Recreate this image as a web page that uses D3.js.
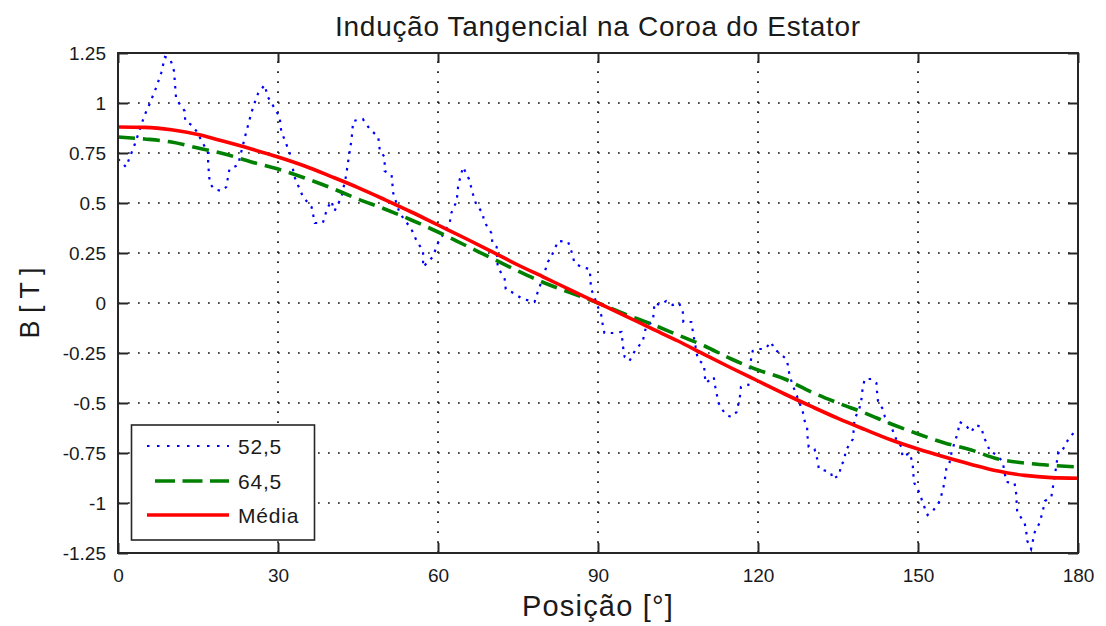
<!DOCTYPE html>
<html>
<head>
<meta charset="utf-8">
<script src="https://cdn.jsdelivr.net/npm/d3@7/dist/d3.min.js"></script>
<style>
  html, body { margin: 0; padding: 0; background: #fff; }
  svg { display: block; }
  text { font-family: "Liberation Sans", Arial, sans-serif; fill: #1a1a1a; }
</style>
</head>
<body>
<svg id="chart" width="1106" height="626"></svg>
<script>
// Tangential flux density in the stator yoke vs. angular position

const xTicks = [0, 30, 60, 90, 120, 150, 180];
const yTicks = [1.25, 1, 0.75, 0.5, 0.25, 0, -0.25, -0.5, -0.75, -1, -1.25];
const seriesNames = ["52,5", "64,5", "Média"];

// Series "52,5": positions (degrees) and flux density (T)
const pos525 = [0, 1.5, 3.1, 5, 6, 7.2, 8.1, 8.8, 9.8, 10.5, 10.9, 12.5, 12.6, 13.8, 14.7, 16.9, 16.9, 17.2, 18, 19.4,
  20.3, 20.9, 22.5, 23.8, 25, 25.6, 26.3, 27.5, 28.1, 29, 30.3, 30.6, 32.2, 33.1, 34.7, 36.3, 36.9, 38.4, 39.2, 40,
  40.6, 41.9, 42.8, 43, 43.8, 44.1, 45.9, 47.2, 48.8, 49.1, 50, 50, 51.3, 51.6, 52.8, 55, 56, 57.2, 57.2, 59,
  60, 62.2, 62.5, 63.5, 63.8, 64.7, 65.8, 66.6, 67.2, 68.4, 68.6, 70, 70.2, 71, 71.2, 72.5, 72.7, 73.8, 75.9, 78.1,
  78.7, 79.7, 80.6, 81.2, 82.2, 82.5, 84.4, 85, 85.6, 86.9, 88.4, 88.5, 88.7, 89.2, 89.7, 90.6, 90.9, 91.2, 92.8, 94.4,
  94.7, 95, 95.9, 96.9, 98.4, 99, 100.3, 100.6, 101.6, 102.8, 104, 105.2, 105.9, 106, 107.5, 107.8, 108.7, 109.9, 110, 110.2,
  111.7, 112, 112.3, 112.6, 113.2, 114.1, 115, 116, 116.6, 116.8, 118.2, 118.4, 118.7, 119, 120, 121.3, 122.5, 123, 124, 125.3,
  125.6, 125.9, 126.5, 127.8, 128.4, 128.8, 129.2, 129.3, 129.5, 130.6, 131.2, 131.4, 132.8, 133.7, 134, 135.3, 135.5, 136.2, 136.4, 137.8,
  138.1, 139, 139.4, 139.6, 140, 141.3, 142.2, 142.3, 142.5, 143.4, 143.8, 145, 145.9, 146.9, 147.1, 148.4, 149, 149.1, 149.3, 150.3,
  150.9, 151.8, 152.8, 154.1, 154.7, 155, 155.3, 155.9, 156.3, 156.9, 157.5, 157.8, 158.9, 160, 160.8, 161.9, 162.3, 163.1, 163.4, 164.8,
  165.9, 166.2, 166.6, 168.1, 168.4, 168.5, 168.6, 170, 170.3, 170.5, 171.2, 171.9, 172.8, 173.4, 173.8, 175, 175.3, 175.9, 176.3, 176.9,
  177.8, 178.4, 179.4, 180];
const b525 = [0.72, 0.68, 0.79, 0.94, 1.0, 1.08, 1.15, 1.23, 1.22, 1.16, 1.02, 0.96, 0.91, 0.89, 0.86, 0.75, 0.70, 0.60, 0.57, 0.56,
  0.58, 0.67, 0.69, 0.83, 0.95, 1.0, 1.05, 1.09, 1.03, 0.99, 0.93, 0.86, 0.75, 0.63, 0.53, 0.48, 0.40, 0.40, 0.47, 0.51,
  0.46, 0.53, 0.64, 0.68, 0.82, 0.91, 0.92, 0.87, 0.83, 0.76, 0.73, 0.66, 0.64, 0.55, 0.45, 0.37, 0.31, 0.26, 0.18, 0.23,
  0.30, 0.40, 0.45, 0.51, 0.59, 0.68, 0.62, 0.54, 0.49, 0.45, 0.41, 0.35, 0.30, 0.28, 0.18, 0.12, 0.07, 0.055, 0.02, 0.005,
  0.055, 0.13, 0.205, 0.23, 0.29, 0.31, 0.305, 0.26, 0.20, 0.18, 0.17, 0.15, 0.07, 0.04, 0.0, -0.06, -0.11, -0.15, -0.15, -0.145,
  -0.22, -0.27, -0.29, -0.24, -0.19, -0.12, -0.09, 0.0, -0.01, 0.01, -0.01, 0.0, -0.045, -0.095, -0.095, -0.145, -0.28, -0.31, -0.36, -0.40,
  -0.37, -0.42, -0.46, -0.50, -0.53, -0.56, -0.57, -0.545, -0.47, -0.42, -0.41, -0.34, -0.28, -0.24, -0.23, -0.23, -0.195, -0.23, -0.25, -0.28,
  -0.31, -0.36, -0.41, -0.50, -0.545, -0.595, -0.62, -0.67, -0.72, -0.73, -0.79, -0.83, -0.84, -0.85, -0.88, -0.86, -0.81, -0.79, -0.74, -0.68,
  -0.58, -0.53, -0.48, -0.43, -0.38, -0.38, -0.40, -0.44, -0.49, -0.53, -0.57, -0.62, -0.68, -0.72, -0.77, -0.75, -0.80, -0.85, -0.90, -0.95,
  -1.0, -1.06, -1.04, -0.99, -0.93, -0.89, -0.83, -0.80, -0.745, -0.695, -0.645, -0.595, -0.61, -0.645, -0.61, -0.62, -0.67, -0.71, -0.74, -0.76,
  -0.795, -0.845, -0.895, -0.90, -0.95, -1.0, -1.045, -1.10, -1.145, -1.19, -1.23, -1.145, -1.10, -1.04, -0.99, -0.97, -0.92, -0.82, -0.745, -0.745,
  -0.70, -0.67, -0.645, -0.64];

// Series "64,5" and "Média", sampled every 5 degrees
const pos5deg = [0, 5, 10, 15, 20, 25, 30, 35, 40, 45, 50, 55, 60, 65, 70, 75, 80, 85, 90,
  95, 100, 105, 110, 115, 120, 125, 130, 135, 140, 145, 150, 155, 160, 165, 170, 175, 180];
const b645 = [0.83, 0.82, 0.805, 0.775, 0.745, 0.705, 0.67, 0.625, 0.575, 0.52, 0.47, 0.415, 0.355, 0.29, 0.225, 0.16, 0.1, 0.05, 0.0,
  -0.055, -0.105, -0.16, -0.215, -0.28, -0.335, -0.38, -0.445, -0.5, -0.55, -0.605, -0.655, -0.7, -0.735, -0.78, -0.8, -0.812, -0.82];
const bMedia = [0.88, 0.878, 0.866, 0.842, 0.807, 0.77, 0.73, 0.685, 0.632, 0.577, 0.517, 0.455, 0.39, 0.325, 0.258, 0.19, 0.127, 0.063, 0.0,
  -0.063, -0.127, -0.19, -0.258, -0.325, -0.39, -0.455, -0.517, -0.577, -0.632, -0.685, -0.73, -0.77, -0.807, -0.84, -0.862, -0.873, -0.876];

const svg = d3.select("#chart");
const plotLeft = 118, plotRight = 1078, plotTop = 53, plotBottom = 553;

const x = d3.scaleLinear().domain([0, 180]).range([plotLeft, plotRight]);
const y = d3.scaleLinear().domain([-1.25, 1.25]).range([plotBottom, plotTop]);

svg.append("rect").attr("width", 1106).attr("height", 626).attr("fill", "#fff");

// dotted grid
const grid = svg.append("g").attr("stroke", "#111").attr("stroke-width", 1.7)
  .attr("stroke-dasharray", "1.7,8.3");
grid.selectAll("line.v").data(xTicks.slice(1, -1)).join("line").attr("class", "v")
  .attr("x1", d => x(d)).attr("x2", d => x(d)).attr("y1", plotBottom).attr("y2", plotTop);
grid.selectAll("line.h").data(yTicks.slice(1, -1)).join("line").attr("class", "h")
  .attr("y1", d => y(d)).attr("y2", d => y(d)).attr("x1", plotLeft).attr("x2", plotRight);

// series
const line = d3.line().x(d => x(d[0])).y(d => y(d[1]));
const d525 = pos525.map((p, i) => [p, b525[i]]);
const d645 = pos5deg.map((p, i) => [p, b645[i]]);
const dMed = pos5deg.map((p, i) => [p, bMedia[i]]);
const smooth = d3.line().x(d => x(d[0])).y(d => y(d[1])).curve(d3.curveMonotoneX);

const styles = [
  { color: "#0000ff", width: 2.2, dash: "2.5,6" },
  { color: "#008000", width: 3.6, dash: "17,8" },
  { color: "#ff0000", width: 3.6, dash: null }
];

svg.append("path").datum(d525).attr("d", line).attr("fill", "none")
  .attr("stroke", styles[0].color).attr("stroke-width", styles[0].width)
  .attr("stroke-dasharray", styles[0].dash);
svg.append("path").datum(d645).attr("d", smooth).attr("fill", "none")
  .attr("stroke", styles[1].color).attr("stroke-width", styles[1].width)
  .attr("stroke-dasharray", styles[1].dash);
svg.append("path").datum(dMed).attr("d", smooth).attr("fill", "none")
  .attr("stroke", styles[2].color).attr("stroke-width", styles[2].width);

// axes with inward ticks on all four sides
const fmtY = d => String(d);
const axB = svg.append("g").attr("transform", `translate(0,${plotBottom})`)
  .call(d3.axisBottom(x).tickValues(xTicks).tickSize(-10).tickPadding(16).tickFormat(d => String(d)));
const axT = svg.append("g").attr("transform", `translate(0,${plotTop})`)
  .call(d3.axisTop(x).tickValues(xTicks).tickSize(-10).tickFormat(""));
const axL = svg.append("g").attr("transform", `translate(${plotLeft},0)`)
  .call(d3.axisLeft(y).tickValues(yTicks).tickSize(-10).tickPadding(12).tickFormat(fmtY));
const axR = svg.append("g").attr("transform", `translate(${plotRight},0)`)
  .call(d3.axisRight(y).tickValues(yTicks).tickSize(-10).tickFormat(""));
[axB, axT, axL, axR].forEach(g => {
  g.select(".domain").remove();
  g.selectAll(".tick line").attr("stroke", "#262626").attr("stroke-width", 2);
  g.selectAll("text").style("font-size", "19px").attr("fill", "#1a1a1a");
});

svg.append("rect").attr("x", plotLeft).attr("y", plotTop)
  .attr("width", plotRight - plotLeft).attr("height", plotBottom - plotTop)
  .attr("fill", "none").attr("stroke", "#262626").attr("stroke-width", 2);

// title and axis labels
svg.append("text").attr("x", (plotLeft + plotRight) / 2).attr("y", 36).attr("text-anchor", "middle")
  .style("font-size", "28px").style("letter-spacing", "0.7px")
  .text("Indução Tangencial na Coroa do Estator");
svg.append("text").attr("x", (plotLeft + plotRight) / 2).attr("y", 616).attr("text-anchor", "middle")
  .style("font-size", "29px").style("letter-spacing", "1.2px").text("Posição [°]");
svg.append("text").attr("transform", `translate(39,${(plotTop + plotBottom) / 2}) rotate(-90)`)
  .attr("text-anchor", "middle").style("font-size", "27px").text("B [ T ]");

// legend
const lg = svg.append("g");
lg.append("rect").attr("x", 131.5).attr("y", 425).attr("width", 183).attr("height", 115)
  .attr("fill", "#fff").attr("stroke", "#262626").attr("stroke-width", 1.6);
const rowsY = [446, 481, 515];
seriesNames.forEach((name, i) => {
  const s = styles[i];
  lg.append("line").attr("x1", i === 1 ? 155 : 147).attr("x2", 229)
    .attr("y1", rowsY[i]).attr("y2", rowsY[i])
    .attr("stroke", s.color).attr("stroke-width", s.width)
    .attr("stroke-dasharray", i === 0 ? "2.5,7.5" : (i === 1 ? "20,7.5" : null));
  lg.append("text").attr("x", 238).attr("y", rowsY[i] + 8).style("font-size", "21px")
    .style("letter-spacing", "0.8px").text(name);
});
</script>
</body>
</html>
